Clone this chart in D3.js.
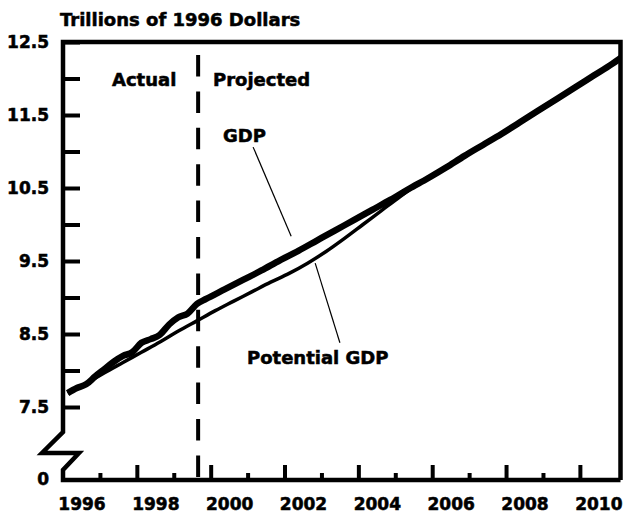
<!DOCTYPE html>
<html><head><meta charset="utf-8">
<script src="https://cdn.jsdelivr.net/npm/d3@7"></script>
<style>html,body{margin:0;padding:0;background:#fff}</style>
</head><body><svg id="chart" width="626" height="515"></svg>
<script>
// ---- data (trillions of 1996 dollars) ----
const gdpQuarters = ["1996Q1","1996Q2","1996Q3","1996Q4","1997Q1","1997Q2","1997Q3","1997Q4",
  "1998Q1","1998Q2","1998Q3","1998Q4","1999Q1","1999Q2","1999Q3","1999Q4",
  "2000Q2","2000Q4","2001Q2","2001Q4","2002Q2","2002Q4","2003Q2","2003Q4",
  "2004Q2","2004Q4","2005Q2","2005Q4","2006Q2","2006Q4","2007Q2","2007Q4",
  "2008Q2","2008Q4","2009Q2","2009Q4","2010Q2","2010Q4","2011Q1"];
const gdpValues = [7.69,7.76,7.81,7.92,8.02,8.12,8.20,8.25,
  8.38,8.43,8.49,8.63,8.73,8.78,8.91,8.98,
  9.11,9.24,9.37,9.51,9.64,9.78,9.92,10.06,
  10.20,10.34,10.49,10.63,10.78,10.94,11.09,11.24,
  11.40,11.56,11.72,11.88,12.04,12.20,12.29];
const potentialQuarters = ["1996Q1","1996Q3","1997Q1","1997Q3","1998Q1","1998Q3","1999Q1","1999Q3",
  "2000Q1","2000Q3","2001Q1","2001Q3","2002Q1","2002Q3","2003Q1","2003Q3",
  "2004Q1","2004Q3","2005Q1","2005Q3","2006Q1","2006Q3","2007Q1","2007Q3",
  "2008Q1","2008Q3","2009Q1","2009Q3","2010Q1","2010Q3","2011Q1"];
const potentialValues = [7.69,7.82,7.97,8.11,8.25,8.39,8.54,8.68,
  8.82,8.95,9.08,9.21,9.33,9.47,9.63,9.81,
  10.00,10.19,10.38,10.56,10.71,10.86,11.01,11.16,
  11.32,11.47,11.63,11.79,11.96,12.12,12.29];
const projectionStart = 1999.66;
const yLabelValues = [7.5, 8.5, 9.5, 10.5, 11.5, 12.5];
const yMinorValues = [8, 9, 10, 11, 12];
const zeroLabel = "0";
const xMajorYears = [1998, 2000, 2002, 2004, 2006, 2008, 2010];
const xMinorYears = [1997, 1999, 2001, 2003, 2005, 2007, 2009];
const xLabelYears = ["1996","1998","2000","2002","2004","2006","2008","2010"];
const titleText = "Trillions of 1996 Dollars";
const actualText = "Actual", projectedText = "Projected";
const gdpLabel = "GDP", potentialLabel = "Potential GDP";

// ---- layout ----
const L = 63, R = 620.5, T = 42, B = 480;
const FONT = "DejaVu Sans";
const svg = d3.select("#chart");
svg.append("rect").attr("width",626).attr("height",515).attr("fill","#fff");

const parseQ = s => +s.slice(0,4) + (+s.slice(5) - 0.5) / 4;
const x = d3.scaleLinear().domain([1996, 2011.1]).range([L, R]);
const y = d3.scaleLinear().domain([7.5, 12.5]).range([407, T]);

const gdp = gdpQuarters.map((q,i) => ({t: parseQ(q), v: gdpValues[i]}));
const pot = potentialQuarters.map((q,i) => ({t: parseQ(q), v: potentialValues[i]}));

const styleText = sel => sel.attr("font-family",FONT).attr("font-weight","bold")
  .attr("fill","#000").attr("stroke","#000").attr("stroke-width",0.55).attr("paint-order","stroke");

// title
svg.append("text").attr("x",60).attr("y",26).text(titleText).attr("font-size",18).call(styleText);

// clip
svg.append("clipPath").attr("id","plot").append("rect")
  .attr("x",L).attr("y",T).attr("width",R-L).attr("height",B-T);

// y axis ticks (inward)
const yAxMajor = d3.axisLeft(y).tickValues(yLabelValues).tickSize(-17).tickPadding(14)
  .tickFormat(d => d3.format(".1f")(d));
const yAxMinor = d3.axisLeft(y).tickValues(yMinorValues).tickSize(-17).tickFormat("");
[yAxMajor, yAxMinor].forEach(ax => {
  const g = svg.append("g").attr("transform",`translate(${L},0)`).call(ax);
  g.select(".domain").remove();
  g.selectAll("line").attr("stroke","#000").attr("stroke-width",4);
  g.selectAll("text").attr("font-size",17).call(styleText);
});
svg.append("text").attr("x",L-14).attr("y",B).attr("dy","0.32em").attr("text-anchor","end")
  .text(zeroLabel).attr("font-size",17).call(styleText);

// x axis ticks (inward)
const xAxMajor = d3.axisBottom(x).tickValues(xMajorYears).tickSize(-15).tickFormat("");
const xAxMinor = d3.axisBottom(x).tickValues(xMinorYears).tickSize(-7).tickFormat("");
const xAxLab = d3.axisBottom(x).tickValues(xLabelYears.map(d => +d + 0.5)).tickSize(0).tickPadding(18)
  .tickFormat((d,i) => xLabelYears[i]);
[xAxMajor, xAxMinor, xAxLab].forEach(ax => {
  const g = svg.append("g").attr("transform",`translate(0,${B})`).call(ax);
  g.select(".domain").remove();
  g.selectAll("line").attr("stroke","#000").attr("stroke-width",4);
  g.selectAll("text").attr("font-size",17).call(styleText);
});

// frame with axis break
const frame = d3.path();
frame.moveTo(R, B); frame.lineTo(L, B); frame.lineTo(L, 470); frame.lineTo(79, 453);
frame.lineTo(42, 453); frame.lineTo(L, 432); frame.lineTo(L, T); frame.lineTo(R, T); frame.lineTo(R, B);
svg.append("path").attr("d", frame.toString()).attr("fill","none").attr("stroke","#000")
  .attr("stroke-width",4.5).attr("stroke-linejoin","miter");

// projection divider
svg.append("line").attr("x1",x(projectionStart)).attr("x2",x(projectionStart)).attr("y1",T).attr("y2",B)
  .attr("stroke","#000").attr("stroke-width",4).attr("stroke-dasharray","21.5,14.9").attr("stroke-dashoffset",23.4);

// lines
const line = d3.line().x(d => x(d.t)).y(d => y(d.v)).curve(d3.curveMonotoneX);
const lg = svg.append("g").attr("clip-path","url(#plot)");
lg.append("path").datum(pot).attr("d",line).attr("fill","none").attr("stroke","#000")
  .attr("stroke-width",3.5).attr("stroke-linejoin","round");
lg.append("path").datum(gdp).attr("d",line).attr("fill","none").attr("stroke","#000")
  .attr("stroke-width",6.5).attr("stroke-linejoin","round");

// labels
const lab = (txt, px, py) => svg.append("text").attr("x",px).attr("y",py).text(txt)
  .attr("font-size",18).call(styleText);
lab(actualText, 112, 86);
lab(projectedText, 213, 86);
lab(gdpLabel, 223, 142);
lab(potentialLabel, 247, 364);

// leader lines (data coordinates)
const leaders = [
  {t1: 2001.15, v1: 11.06, t2: 2002.18, v2: 9.84},
  {t1: 2002.83, v1: 9.47, t2: 2003.50, v2: 8.38}
];
svg.selectAll(".leader").data(leaders).enter().append("line")
  .attr("x1",d=>x(d.t1)).attr("y1",d=>y(d.v1)).attr("x2",d=>x(d.t2)).attr("y2",d=>y(d.v2))
  .attr("stroke","#000").attr("stroke-width",1.2);
</script></body></html>
